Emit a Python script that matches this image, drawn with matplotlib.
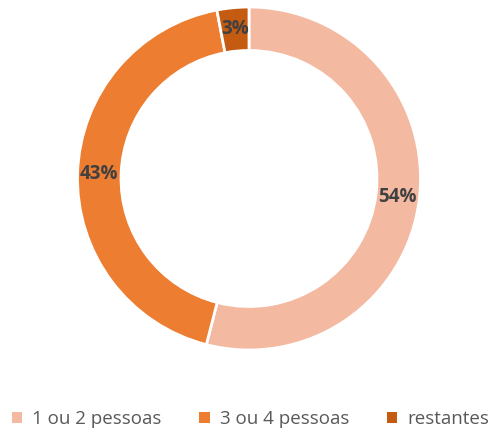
import matplotlib
matplotlib.use("Agg")
import matplotlib.pyplot as plt
from matplotlib.patches import Patch
import numpy as np

categories = ["1 ou 2 pessoas", "3 ou 4 pessoas", "restantes"]
values = [54, 43, 3]
colors = ["#F4B9A1", "#ED7D31", "#C55A11"]

W, H = 496, 438
fig = plt.figure(figsize=(W / 100, H / 100), dpi=100)
cx, cy, R = 249, 178.5, 171.5
ax = fig.add_axes([(cx - R) / W, (H - cy - R) / H, 2 * R / W, 2 * R / H])

width = (171.5 - 128) / 171.5
wedges, texts = ax.pie(values, colors=colors, startangle=90, counterclock=False,
                       radius=1.0,
                       wedgeprops=dict(width=width, edgecolor="white", linewidth=2))
total = sum(values)
cum = 0
rlab = 1 - width / 2
for v in values:
    mid = 90 - (cum + v / 2) / total * 360
    cum += v
    x = rlab * np.cos(np.radians(mid))
    y = rlab * np.sin(np.radians(mid))
    ax.text(x, y, f"{v}%", ha="center", va="center", fontsize=13.5,
            fontweight="bold", color="#404040", family="Open Sans")
ax.set_xlim(-1, 1)
ax.set_ylim(-1, 1)
ax.set_aspect("equal")
ax.axis("off")

handles = [Patch(facecolor=c, edgecolor="none") for c in colors]
fig.legend(handles, categories, loc="center", bbox_to_anchor=(0.505, 1 - 419 / H),
           ncol=3, frameon=False, handlelength=0.55, handleheight=0.55,
           handletextpad=0.55, columnspacing=2.0,
           prop={"family": "Open Sans", "size": 13.5}, labelcolor="#595959")

fig.savefig("out.png", dpi=100)
